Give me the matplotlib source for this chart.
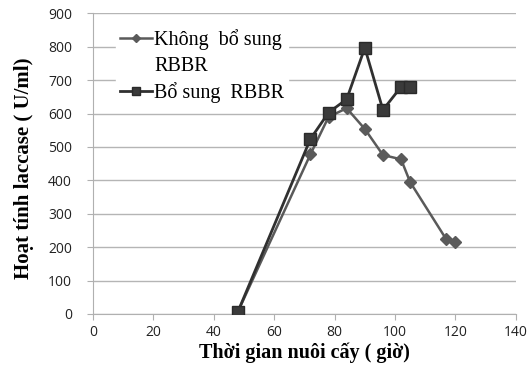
import matplotlib
matplotlib.use("Agg")
import matplotlib.pyplot as plt
from matplotlib.lines import Line2D

hours_a = [48, 72, 78, 84, 90, 96, 102, 105, 117, 120]
laccase_a = [7, 478, 590, 616, 554, 476, 463, 395, 223, 215]
hours_b = [48, 72, 78, 84, 90, 96, 102, 105]
laccase_b = [7, 524, 603, 643, 797, 611, 680, 680]
label_a_lines = ["Không  bổ sung", "RBBR"]
label_b = "Bổ sung  RBBR"
xlabel = "Thời gian nuôi cấy ( giờ)"
ylabel = "Hoạt tính laccase ( U/ml)"

fig = plt.figure(figsize=(5.28, 3.72), dpi=100)
ax = fig.add_axes([0.176, 0.156, 0.801, 0.808])

line_a, = ax.plot(hours_a, laccase_a, color="#5a5a5a", lw=1.8, marker="D", ms=6.5,
                  mfc="#5a5a5a", mec="#5a5a5a", zorder=3)
line_b, = ax.plot(hours_b, laccase_b, color="#303030", lw=2.0, marker="s", ms=9,
                  mfc="#3a3a3a", mec="#2a2a2a", zorder=4)

ax.set_xlim(0, 140)
ax.set_ylim(0, 900)
ax.set_xticks(range(0, 141, 20))
ax.set_yticks(range(0, 901, 100))
ax.yaxis.grid(True, color="#b5b5b5", lw=1.0)
ax.set_axisbelow(True)
for s in ["top", "right"]:
    ax.spines[s].set_visible(False)
for s in ["left", "bottom"]:
    ax.spines[s].set_color("#b0b0b0")
ax.tick_params(axis="both", colors="#b0b0b0", length=4, labelcolor="#222222",
               labelsize=10)
ax.tick_params(axis="y", pad=11)
ax.tick_params(axis="x", pad=4)
for t in ax.get_xticklabels() + ax.get_yticklabels():
    t.set_fontfamily("Open Sans")

ax.set_xlabel(xlabel, fontfamily="Liberation Serif", fontweight="bold",
              fontsize=14.5, labelpad=2)
ax.set_ylabel(ylabel, fontfamily="Liberation Serif", fontweight="bold",
              fontsize=15, labelpad=6)
ax.yaxis.set_label_coords(-0.14, 0.485)

blank = Line2D([], [], linestyle="none", marker=None)
leg = ax.legend([line_a, blank, line_b],
                [label_a_lines[0], label_a_lines[1], label_b],
                loc="upper left", bbox_to_anchor=(0.03, 0.995), frameon=True,
                prop={"family": "Liberation Serif", "size": 14.5},
                handlelength=1.6, handletextpad=0.1, labelspacing=0.33,
                borderpad=0.2, fancybox=False, markerscale=0.7)
leg.get_frame().set_edgecolor("white")
leg.get_frame().set_facecolor("white")
leg.get_frame().set_alpha(1)

fig.savefig("out.png", dpi=100)
